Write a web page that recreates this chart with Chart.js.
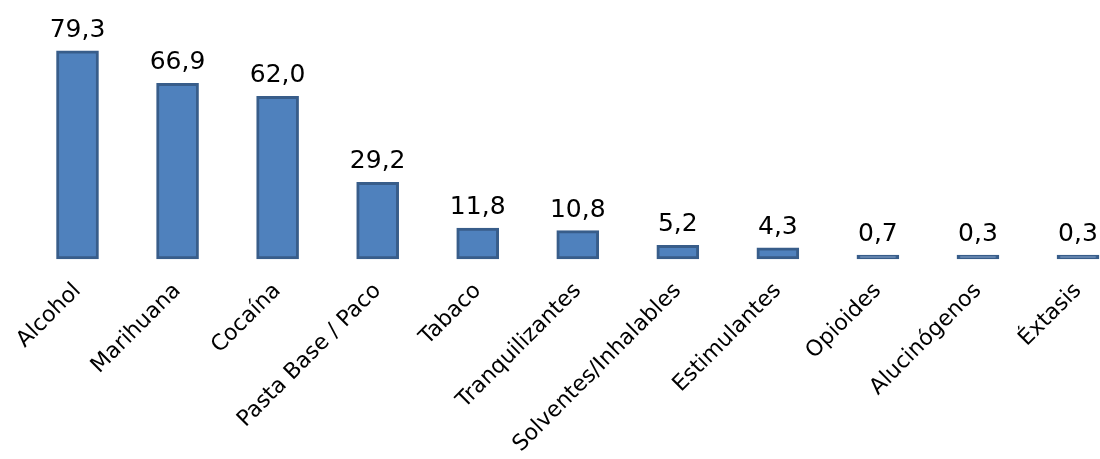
<!DOCTYPE html>
<html><head><meta charset="utf-8">
<script src="https://cdn.jsdelivr.net/npm/chart.js@4/dist/chart.umd.min.js"></script>
<style>html,body{margin:0;padding:0;background:#fff;overflow:hidden}#wrap{width:1100px;height:459px;position:relative}</style>
</head><body><div id="wrap"><canvas id="c" width="1100" height="459"></canvas></div>
<script>
const categories = ["Alcohol","Marihuana","Cocaína","Pasta Base / Paco","Tabaco","Tranquilizantes","Solventes/Inhalables","Estimulantes","Opioides","Alucinógenos","Éxtasis"];
const values = [79.3,66.9,62.0,29.2,11.8,10.8,5.2,4.3,0.7,0.3,0.3];
const valueLabels = ["79,3","66,9","62,0","29,2","11,8","10,8","5,2","4,3","0,7","0,3","0,3"];

const FONT = "'DejaVu Sans', sans-serif";
const labelPlugin = {
  id: 'vlabels',
  afterDatasetsDraw(chart) {
    const ctx = chart.ctx;
    const meta = chart.getDatasetMeta(0);
    ctx.save();
    ctx.font = "25px " + FONT;
    ctx.fillStyle = "#000";
    ctx.textAlign = "center";
    ctx.textBaseline = "alphabetic";
    meta.data.forEach((bar, i) => {
      ctx.fillText(valueLabels[i], bar.x, bar.y - 14);
    });
    ctx.restore();
  }
};

new Chart(document.getElementById('c'), {
  type: 'bar',
  data: {
    labels: categories,
    datasets: [{
      data: values,
      backgroundColor: '#4F81BD',
      borderColor: '#385D8A',
      borderWidth: 3,
      borderSkipped: false,
      barThickness: 42,
      minBarLength: 4,
      clip: false
    }]
  },
  options: {
    responsive: false,
    animation: false,
    layout: { padding: { top: 49, left: 77.5, right: 22, bottom: 0 } },
    plugins: { legend: { display: false }, tooltip: { enabled: false } },
    scales: {
      x: {
        offset: false,
        grid: { display: false },
        border: { display: false },
        ticks: {
          minRotation: 45, maxRotation: 45, autoSkip: false,
          color: '#000', padding: 11,
          font: { family: FONT, size: 22 }
        },
        afterFit(scale) { scale.height = 200; scale.paddingLeft = 0; scale.paddingRight = 0; }
      },
      y: { display: false, min: 0, max: 80 }
    }
  },
  plugins: [labelPlugin]
});
</script></body></html>
